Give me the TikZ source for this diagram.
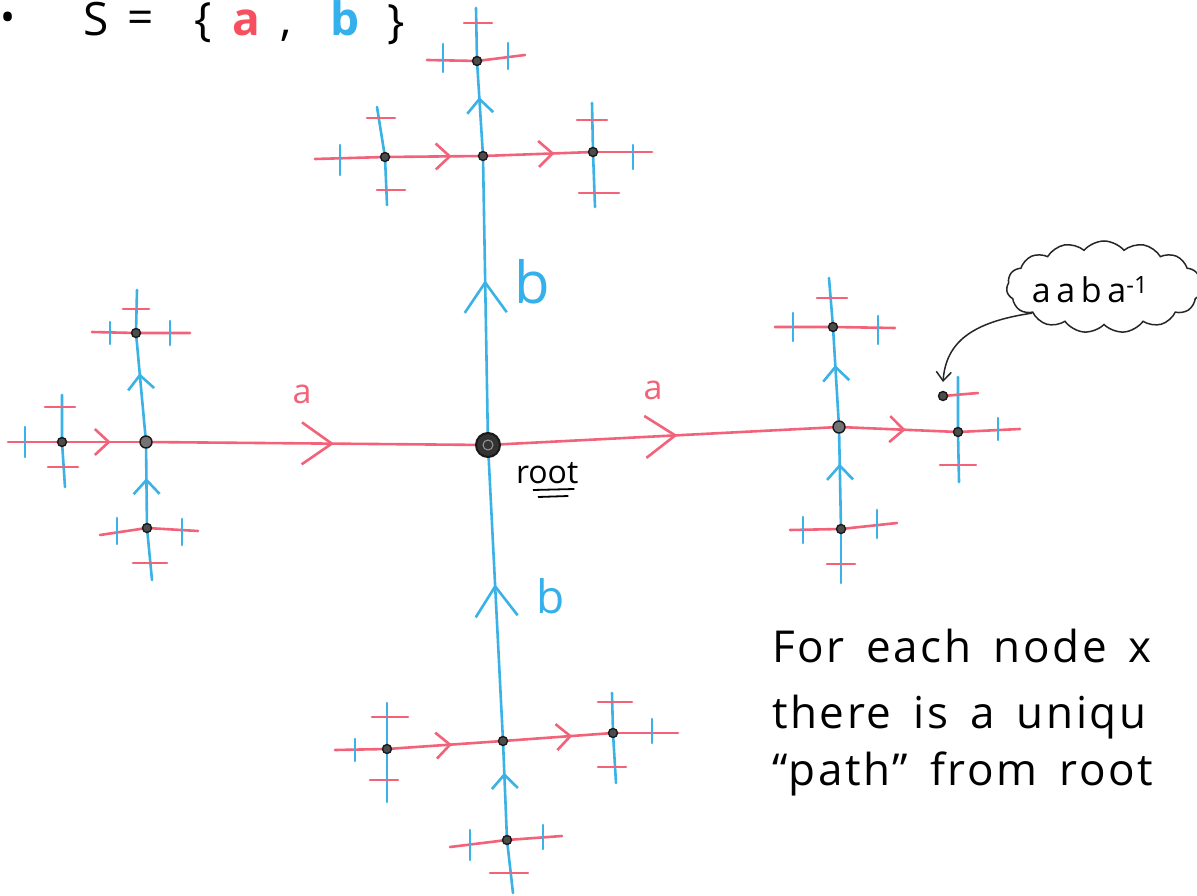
\documentclass[tikz,border=0pt]{standalone}
\usepackage{fontspec}
\setmainfont{Open Sans}
\newfontfamily\handfont[LetterSpace=6.0]{Open Sans}
\usetikzlibrary{arrows.meta,decorations.markings,shapes.symbols}
\definecolor{penred}{RGB}{242,98,120}
\definecolor{penblue}{RGB}{58,178,230}
\definecolor{inkred}{RGB}{246,80,96}
\definecolor{inkblue}{RGB}{52,176,236}
\newcommand\mybtick[3]{\draw[bluel] (#1,{#2-#3}) -- (#1,{#2+#3});}
\newcommand\myrtick[3]{\draw[redl] ({#1-#3},#2) -- ({#1+#3},#2);}
\newcommand\mynotefont{\handfont\fontsize{44}{44}\selectfont\spaceskip=22pt plus 4pt\relax}
\tikzset{
  redl/.style={draw=penred, line width=2.6pt, line cap=round},
  bluel/.style={draw=penblue, line width=2.6pt, line cap=round},
  vtx/.style={circle, draw=black!90, fill=black!70, line width=1.4pt, inner sep=0pt, minimum size=9pt},
  bigvtx/.style={vtx, minimum size=12pt, fill=black!55},
  amark/.style 2 args={postaction={decorate}, decoration={markings, mark=at position #1 with {\arrow{#2}}}},
  bigbarb/.tip={Straight Barb[length=30pt,width=42pt]},
  smallbarb/.tip={Straight Barb[length=14pt,width=26pt]},
  lbl/.style={inner sep=0pt, outer sep=0pt},
  note/.style={lbl, anchor=base west, font=\mynotefont},
  settxt/.style={lbl, anchor=base, font=\fontsize{46}{46}\selectfont},
}
\begin{document}
\begin{tikzpicture}[x=1pt,y=-1pt]
\useasboundingbox (0,0) rectangle (1197,896);
\fill[white] (0,0) rectangle (1197,896);

% ---- vertices
\coordinate (r) at (488,445);
\coordinate (L) at (146,442);
\coordinate (LL) at (62,442);
\coordinate (Lu) at (136,333);
\coordinate (Ld) at (147,528);
\coordinate (R) at (839,427);
\coordinate (R2) at (958,432);
\coordinate (Ru) at (833,327);
\coordinate (Rd) at (841,529);
\coordinate (T) at (483,156);
\coordinate (TL) at (385,157);
\coordinate (TR) at (593,152);
\coordinate (TT) at (477,61);
\coordinate (B) at (503,741);
\coordinate (BL) at (387,749);
\coordinate (BR) at (613,733);
\coordinate (BB) at (507,840);
\coordinate (X) at (943,396);
% free ends
\coordinate (LLw) at (8,442);   \coordinate (LLn) at (62,395);  \coordinate (LLs) at (65,487);
\coordinate (Luw) at (92,332);  \coordinate (Lue) at (190,333); \coordinate (Lun) at (137,290);
\coordinate (Ldw) at (100,535); \coordinate (Lde) at (198,531); \coordinate (Lds) at (152,580);
\coordinate (R2n) at (958,377); \coordinate (R2s) at (959,482); \coordinate (R2e) at (1020,429);
\coordinate (Xe) at (978,393);
\coordinate (Ruw) at (775,327); \coordinate (Rue) at (895,328); \coordinate (Run) at (829,278);
\coordinate (Rdw) at (790,530); \coordinate (Rde) at (897,523); \coordinate (Rds) at (841,583);
\coordinate (TLn) at (377,107); \coordinate (TLs) at (387,205); \coordinate (TLw) at (315,159);
\coordinate (TRn) at (592,103); \coordinate (TRs) at (595,207); \coordinate (TRe) at (652,152);
\coordinate (TTw) at (427,60);  \coordinate (TTe) at (525,55);  \coordinate (TTn) at (476,8);
\coordinate (BLn) at (387,703); \coordinate (BLs) at (387,802); \coordinate (BLw) at (335,750);
\coordinate (BRn) at (612,693); \coordinate (BRs) at (616,783); \coordinate (BRe) at (678,733);
\coordinate (BBw) at (450,847); \coordinate (BBe) at (562,836); \coordinate (BBs) at (513,893);

% ---- main edges
\draw[redl, amark={0.55}{bigbarb}] (L) -- (r);
\draw[redl, amark={0.54}{bigbarb}] (r) -- (R);
\draw[bluel, amark={0.57}{bigbarb}] (r) -- (T);
\draw[bluel, amark={0.53}{bigbarb}] (B) -- (r);

% ---- left cluster
\draw[redl, amark={0.58}{smallbarb}] (LL) -- (L);
\draw[redl] (LLw) -- (LL);
\draw[bluel] (LLn) -- (LL) -- (LLs);
\draw[bluel, amark={0.63}{smallbarb}] (L) -- (Lu);
\draw[bluel, amark={0.58}{smallbarb}] (Ld) -- (L);
\draw[bluel] (Lun) -- (Lu);
\draw[redl] (Luw) -- (Lu) -- (Lue);
\draw[bluel] (Ld) -- (Lds);
\draw[redl] (Ldw) -- (Ld) -- (Lde);
\mybtick{25}{442}{15}
\myrtick{60}{407}{15} \myrtick{63}{467}{15}
\mybtick{110}{333}{11} \mybtick{170}{333}{12} \myrtick{136}{309}{13}
\mybtick{117}{531}{13} \mybtick{182}{532}{13} \myrtick{150}{563}{17}

% ---- right cluster
\draw[redl, amark={0.56}{smallbarb}] (R) -- (R2);
\draw[redl] (R2) -- (R2e);
\draw[bluel] (R2n) -- (R2) -- (R2s);
\draw[redl] (X) -- (Xe);
\draw[bluel, amark={0.62}{smallbarb}] (R) -- (Ru);
\draw[bluel, amark={0.64}{smallbarb}] (Rd) -- (R);
\draw[bluel] (Run) -- (Ru);
\draw[redl] (Ruw) -- (Ru) -- (Rue);
\draw[bluel] (Rd) -- (Rds);
\draw[redl] (Rdw) -- (Rd) -- (Rde);
\mybtick{998}{429}{11} \myrtick{958}{465}{18}
\mybtick{793}{327}{14} \mybtick{878}{330}{14} \myrtick{832}{298}{15}
\mybtick{803}{530}{13} \mybtick{877}{524}{14} \myrtick{841}{564}{14}

% ---- top cluster
\draw[redl, amark={0.68}{smallbarb}] (TL) -- (T);
\draw[redl, amark={0.65}{smallbarb}] (T) -- (TR);
\draw[bluel, amark={0.62}{smallbarb}] (T) -- (TT);
\draw[bluel] (TLn) -- (TL) -- (TLs);
\draw[redl] (TLw) -- (TL);
\draw[bluel] (TRn) -- (TR) -- (TRs);
\draw[redl] (TR) -- (TRe);
\draw[redl] (TTw) -- (TT) -- (TTe);
\draw[bluel] (TT) -- (TTn);
\mybtick{340}{160}{15} \myrtick{381}{118}{14} \myrtick{391}{190}{14}
\mybtick{633}{157}{12} \myrtick{592}{120}{15} \myrtick{599}{193}{20}
\mybtick{443}{58}{14} \mybtick{508}{56}{13} \myrtick{478}{23}{14}

% ---- bottom cluster
\draw[redl, amark={0.56}{smallbarb}] (BL) -- (B);
\draw[redl, amark={0.63}{smallbarb}] (B) -- (BR);
\draw[bluel, amark={0.68}{smallbarb}] (BB) -- (B);
\draw[bluel] (BLn) -- (BL) -- (BLs);
\draw[redl] (BLw) -- (BL);
\draw[bluel] (BRn) -- (BR) -- (BRs);
\draw[redl] (BR) -- (BRe);
\draw[redl] (BBw) -- (BB) -- (BBe);
\draw[bluel] (BB) -- (BBs);
\mybtick{355}{750}{11} \myrtick{390}{717}{18} \myrtick{384}{780}{14}
\mybtick{652}{731}{12} \myrtick{615}{702}{17} \myrtick{612}{767}{14}
\mybtick{470}{845}{15} \mybtick{543}{837}{12} \myrtick{509}{873}{19}

% ---- vertex dots
\foreach \v in {LL,Lu,Ld,R2,Ru,Rd,T,TL,TR,TT,B,BL,BR,BB,X}
  \node[vtx] (\v-dot) at (\v) {};
\node[bigvtx] (L-dot) at (L) {};
\node[bigvtx] (R-dot) at (R) {};
\node[circle, draw=black!90, fill=black!80, line width=2pt, minimum size=24pt, inner sep=0pt] (r-dot) at (r) {};
\draw[black!40, line width=1pt] (r) circle[radius=5pt];

% ---- edge labels
\node[lbl, text=penred, font=\fontsize{34}{34}\selectfont] (la1) at (302,394) {a};
\node[lbl, text=penred, font=\fontsize{34}{34}\selectfont] (la2) at (653,390) {a};
\node[lbl, text=inkblue, font=\fontsize{58}{58}\selectfont] (lb1) at (532,282) {b};
\node[lbl, text=inkblue, font=\fontsize{46}{46}\selectfont] (lb2) at (551,596) {b};

% ---- root label
\node[lbl, anchor=base west, font=\fontsize{32}{32}\selectfont] (rootlbl) at (516,483) {root};
\draw[black, line width=1.8pt] ([xshift=17pt,yshift=-7pt]rootlbl.base west) -- ([xshift=-4pt,yshift=-6pt]rootlbl.base east);
\draw[black, line width=1.8pt] ([xshift=22pt,yshift=-14pt]rootlbl.base west) -- ([xshift=-10pt,yshift=-13pt]rootlbl.base east);

% ---- cloud
\node[cloud, draw=black!85, line width=1.5pt, cloud puffs=15, cloud puff arc=100, aspect=2.2,
      minimum width=195pt, minimum height=92pt, inner sep=0pt] (cl) at (1104,287) {};
\node[lbl, font=\fontsize{34}{34}\selectfont] (cltxt) at (1090,290) {a\,a\,b\,a\textsuperscript{-1}};
\draw[black!85, line width=1.5pt, -{Straight Barb[length=9pt,width=15pt]}]
  (cl.200) .. controls (972,322) and (946,342) .. ([yshift=14pt]X-dot.center);

% ---- top-left set
\node[lbl, font=\fontsize{40}{40}\selectfont] (sbul) at (8,22) {\textbullet};
\node[settxt] (sS) at (96,36) {S};
\node[settxt] (seq) at (141,34) {=};
\node[settxt] (slb) at (203,36) {\{};
\node[settxt, text=inkred, font=\bfseries\fontsize{46}{46}\selectfont] (sa) at (246,36) {a};
\node[settxt] (scomma) at (286,36) {,};
\node[settxt, text=inkblue, font=\bfseries\fontsize{46}{46}\selectfont] (sb) at (345,36) {b};
\node[settxt] (srb) at (396,38) {\}};

% ---- note
\node[note] (t1) at (772,662) {For each node x};
\node[note] (t2) at (772,728) {there is a uniqu};
\node[note] (t3) at (772,785) {“path” from root};
\end{tikzpicture}
\end{document}
